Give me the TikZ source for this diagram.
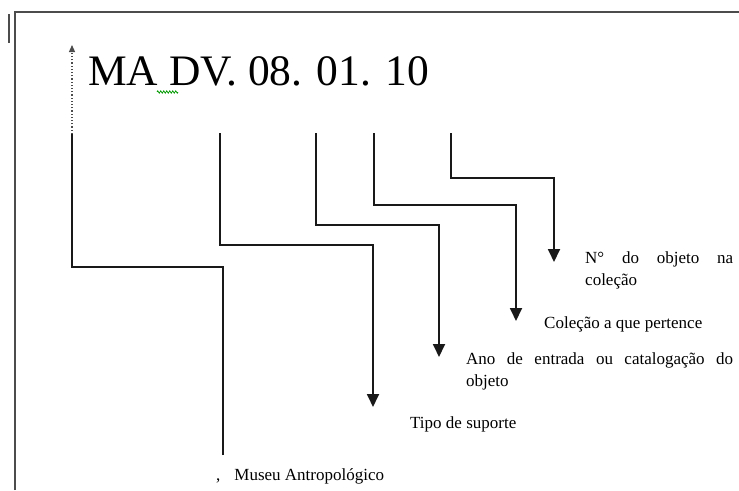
\documentclass[tikz,border=0pt]{standalone}
\usepackage{fontspec}
\setmainfont{Liberation Serif}
\usetikzlibrary{arrows.meta,decorations.pathmorphing}
\begin{document}
\begin{tikzpicture}[x=1pt,y=-1pt,
  conn/.style={draw=black!90, line width=1.8pt},
  tipbig/.style={-{Triangle[width=12pt,length=13pt]}},
  lbl/.style={font=\fontsize{17}{21}\selectfont, inner sep=0pt, anchor=base west},
  framebar/.style={draw=black!70, line width=2pt}]
\useasboundingbox (0,0) rectangle (739,490);
\fill[white] (0,0) rectangle (739,490);
\draw[framebar] (15,490) -- (15,12) -- (739,12);
\draw[framebar] (9,14) -- (9,43);
\node[inner sep=0pt, anchor=base west, font=\fontsize{43.5}{44}\selectfont] (code) at (88,85) {MA DV. 08. 01. 10};
\draw[green!60!black, line width=0.7pt, decorate, decoration={zigzag, amplitude=1.2pt, segment length=3pt}] (157,92) -- (178,92);
% start and end points
\coordinate (maTop) at (72,45);
\coordinate (maMid) at (72,134);
\coordinate (maEnd) at (223,455);
\coordinate (dvS) at (220,133);
\coordinate (dvE) at (373,407);
\coordinate (anoS) at (316,133);
\coordinate (anoE) at (439,357);
\coordinate (colS) at (374,133);
\coordinate (colE) at (516,321);
\coordinate (numS) at (451,133);
\coordinate (numE) at (554,262);
% connectors
\draw[conn] (maEnd) -- ++(0,-188) -| (maMid);
\draw[black!70, line width=1.2pt, dotted, -{Triangle[width=6pt,length=7pt]}] (maMid) -- (maTop);
\draw[conn,tipbig] (dvS) -- ++(0,112) -| (dvE);
\draw[conn,tipbig] (anoS) -- ++(0,92) -| (anoE);
\draw[conn,tipbig] (colS) -- ++(0,72) -| (colE);
\draw[conn,tipbig] (numS) -- ++(0,45) -| (numE);
% labels
\node[lbl] (num1) at (585,263) {\makebox[148pt][s]{N° do objeto na}};
\node[lbl] (num2) at (585,285) {coleção};
\node[lbl] (col) at (544,328) {Coleção a que pertence};
\node[lbl] (ano1) at (466,364) {\makebox[267pt][s]{Ano de entrada ou catalogação do}};
\node[lbl] (ano2) at (466,386) {objeto};
\node[lbl] (tipo) at (410,428) {Tipo de suporte};
\node[lbl] (museu) at (216,480) {,\hspace{14pt}Museu Antropológico};
\end{tikzpicture}
\end{document}
